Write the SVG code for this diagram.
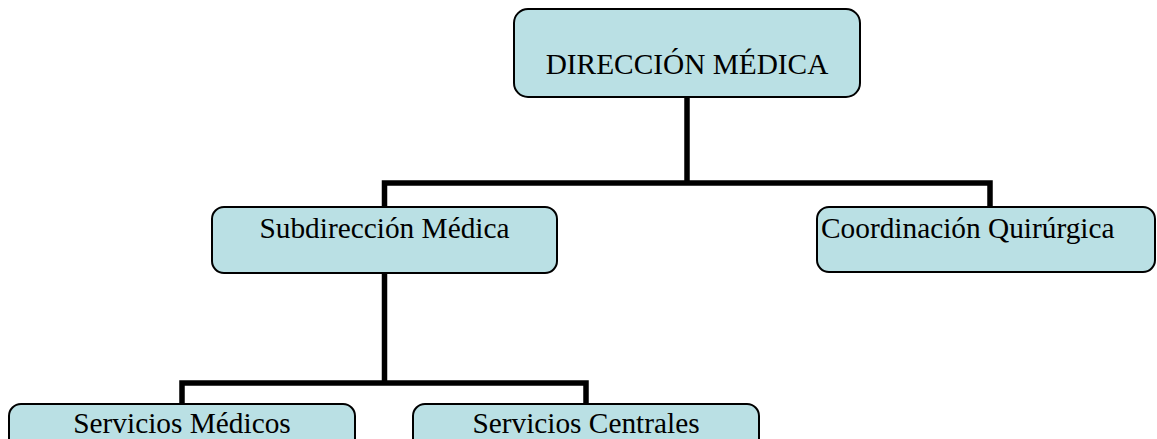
<svg xmlns="http://www.w3.org/2000/svg" width="1157" height="439" viewBox="0 0 1157 439">
<style>
.box{fill:#BAE0E4;stroke:#000;stroke-width:2}
.lbl{font-family:"Liberation Serif","Times New Roman",serif;font-size:29.33px;fill:#000}
.c{text-anchor:middle}
.conn{fill:none;stroke:#000;stroke-width:5.5;stroke-linejoin:miter;stroke-linecap:butt}
</style>
<rect width="1157" height="439" fill="#fff"/>
<g id="connectors">
<path class="conn" d="M687 97 V183"/>
<path class="conn" d="M384.5 207 V183 H990 V207"/>
<path class="conn" d="M384.5 273 V383"/>
<path class="conn" d="M182 404 V383 H586 V404"/>
</g>
<g id="direccion">
<rect class="box" x="514" y="9" width="346" height="88" rx="14"/>
<text class="lbl c" x="687" y="74">DIRECCIÓN MÉDICA</text>
</g>
<g id="subdireccion">
<rect class="box" x="212" y="207" width="345" height="66" rx="12"/>
<text class="lbl c" x="384.5" y="238">Subdirección Médica</text>
</g>
<g id="coordinacion">
<rect class="box" x="817" y="207" width="338" height="65" rx="12"/>
<text class="lbl" x="821" y="238">Coordinación Quirúrgica</text>
</g>
<g id="servicios-medicos">
<rect class="box" x="9" y="404" width="346" height="66" rx="12"/>
<text class="lbl c" x="182" y="433">Servicios Médicos</text>
</g>
<g id="servicios-centrales">
<rect class="box" x="413" y="404" width="346" height="66" rx="12"/>
<text class="lbl c" x="586" y="433">Servicios Centrales</text>
</g>
</svg>
